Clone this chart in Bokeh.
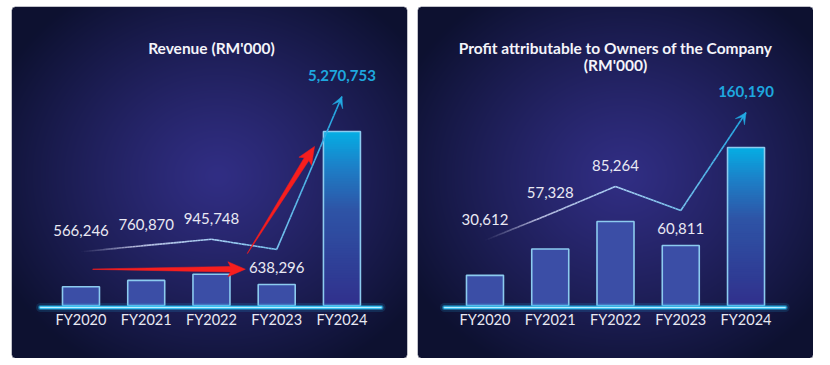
import numpy as np
from bokeh.plotting import figure
from bokeh.layouts import row
from bokeh.models import Range1d, Arrow, VeeHead
from bokeh.embed import file_html
from bokeh.resources import INLINE
from bokeh.core.properties import value

# ---------------- data ----------------
categories = ["FY2020", "FY2021", "FY2022", "FY2023", "FY2024"]
revenue = [566246, 760870, 945748, 638296, 5270753]
profit = [30612, 57328, 85264, 60811, 160190]
revenue_title = ["Revenue (RM'000)"]
profit_title = ["Profit attributable to Owners of the Company", "(RM'000)"]

# ---------------- style / layout ----------------
FRAME_W, FRAME_H = 396, 352
FONT = value("Lato")
LABEL_LIFT_PX = [56, 56, 56, 17, 56]   # value label distance above bar top (px)
TREND_LIFT_PX = 35                     # trend line distance above bar top (px)
BAR_FILL = "#3b4ea6"
BAR_LINE = "#8ccbef"
CYAN = "#1ea7df"
LABEL_COLOR = "#e9e9f3"

# red highlight arrows on revenue panel (index units, data units)
red_arrows = [((0.18, 1.10e6), (2.52, 1.10e6)),
              ((2.55, 1.575e6), (3.58, 4.82e6))]


def bg_image(W, H, radius=5):
    yy, xx = np.mgrid[0:H, 0:W].astype(float)
    ytop = (H - 1) - yy
    cx, cy = W * 0.52, H * 0.48
    d = np.sqrt(((xx - cx) / (W * 0.62)) ** 2 + ((ytop - cy) / (H * 0.62)) ** 2)
    t = np.clip(d, 0, 1) ** 1.15
    c0 = np.array([49, 46, 132], float)
    c1 = np.array([13, 17, 48], float)
    rgb = c0[None, None, :] * (1 - t)[..., None] + c1[None, None, :] * t[..., None]
    xc = xx + 0.5
    yc = ytop + 0.5
    dx = np.maximum(np.maximum(radius - xc, xc - (W - radius)), 0)
    dy = np.maximum(np.maximum(radius - yc, yc - (H - radius)), 0)
    inside = (dx ** 2 + dy ** 2) <= radius ** 2
    img = np.empty((H, W), dtype=np.uint32)
    view = img.view(dtype=np.uint8).reshape((H, W, 4))
    view[..., 0] = rgb[..., 0].astype(np.uint8)
    view[..., 1] = rgb[..., 1].astype(np.uint8)
    view[..., 2] = rgb[..., 2].astype(np.uint8)
    view[..., 3] = np.where(inside, 255, 0).astype(np.uint8)
    return img


def lerp_stops(t, stops):
    for (t0, c0), (t1, c1) in zip(stops[:-1], stops[1:]):
        if t <= t1:
            f = 0 if t1 == t0 else (t - t0) / (t1 - t0)
            f = min(max(f, 0), 1)
            return tuple(a + (b - a) * f for a, b in zip(c0, c1))
    return stops[-1][1]


def hexc(c):
    return "#%02x%02x%02x" % tuple(int(round(v)) for v in c[:3])


def make_panel(vals, title_lines, xr, yr, bl, br, with_red=False):
    x0, x1 = xr
    y0, y1 = yr
    upp = (y1 - y0) / FRAME_H
    ppx = FRAME_W / (x1 - x0)
    ppy = FRAME_H / (y1 - y0)
    p = figure(width=FRAME_W + bl + br, height=FRAME_H + 6,
               x_range=Range1d(x0, x1), y_range=Range1d(y0, y1),
               x_axis_type=None, y_axis_type=None, title=None,
               output_backend="svg", toolbar_location=None,
               min_border=0, min_border_left=bl, min_border_right=br,
               min_border_top=6, min_border_bottom=0,
               background_fill_color="white", border_fill_color="white",
               outline_line_color=None)
    p.grid.visible = False

    p.image_rgba(image=[bg_image(FRAME_W, FRAME_H)], x=x0, y=y0, dw=x1 - x0, dh=y1 - y0)

    idx = list(range(len(categories)))
    bw = 0.567
    # normal bars
    p.vbar(x=idx[:-1], top=vals[:-1], bottom=0, width=bw,
           fill_color=BAR_FILL, line_color=BAR_LINE, line_width=1.6)
    # gradient last bar (overlapping slices drawn tallest first -> no seams)
    n = 70
    top = vals[-1]
    edges = np.linspace(0, top, n + 1)
    stops = [(0.0, (48, 48, 140)), (0.55, (46, 84, 166)), (0.8, (28, 128, 200)), (1.0, (5, 174, 228))]
    cols = [hexc(lerp_stops((i + 0.5) / n, stops)) for i in range(n)]
    order = list(range(n))[::-1]
    p.quad(left=idx[-1] - bw / 2, right=idx[-1] + bw / 2, bottom=0,
           top=[edges[i + 1] for i in order], fill_color=[cols[i] for i in order], line_color=None)
    p.vbar(x=[idx[-1]], top=[top], bottom=0, width=bw, fill_color=None,
           line_color=BAR_LINE, line_width=1.6)

    # glowing baseline
    by = -2 * upp
    for w, a, c in [(9, 0.15, "#2bb8f0"), (5, 0.45, "#22b2ec"), (2.8, 0.95, "#3cc4f4"), (1.0, 1.0, "#bdeeff")]:
        p.line(x=[-0.62, 4.6], y=[by, by], line_width=w, line_alpha=a, line_color=c, line_cap="round")

    # trend line
    ty = [v + TREND_LIFT_PX * upp for v in vals]
    tstops = [(0.0, (170, 170, 205, 0.0)), (0.8, (205, 210, 240, 0.85)), (2.0, (170, 210, 245, 1.0)),
              (3.0, (120, 195, 238, 1.0)), (4.0, (30, 165, 225, 1.0))]
    xs, ys, cs, als = [], [], [], []
    seg = 24
    for i in range(len(idx) - 1):
        xa, xb = idx[i], idx[i + 1]
        ya, yb = ty[i], ty[i + 1]
        for k in range(seg):
            f0, f1 = k / seg, (k + 1) / seg
            xs.append([xa + (xb - xa) * f0, xa + (xb - xa) * f1])
            ys.append([ya + (yb - ya) * f0, ya + (yb - ya) * f1])
            c = lerp_stops(xa + (xb - xa) * (f0 + f1) / 2, tstops)
            cs.append(hexc(c))
            als.append(c[3])
    p.multi_line(xs=xs, ys=ys, line_color=cs, line_alpha=als, line_width=1.6)
    p.add_layout(Arrow(x_start=idx[-2], y_start=ty[-2], x_end=idx[-1], y_end=ty[-1],
                       line_alpha=0.0,
                       end=VeeHead(size=11, fill_color="#22a9e2", line_color="#22a9e2", line_width=0.5)))

    # red arrows
    if with_red:
        for (ax, ay), (bx, by2) in red_arrows:
            P0 = np.array([ax * ppx, ay * ppy])
            P1 = np.array([bx * ppx, by2 * ppy])
            d = P1 - P0
            L = np.hypot(*d)
            u = d / L
            nrm = np.array([-u[1], u[0]])
            head_len, head_half, w_tail, w_neck = 15, 7.5, 0.4, 5.5
            neck = P1 - u * head_len
            barb = neck - u * 2.5
            pts = [P0 + nrm * w_tail / 2, neck + nrm * w_neck / 2, barb + nrm * head_half, P1,
                   barb - nrm * head_half, neck - nrm * w_neck / 2, P0 - nrm * w_tail / 2]
            px = [q[0] / ppx for q in pts]
            py = [q[1] / ppy for q in pts]
            p.patch(x=px, y=py, fill_color="#f71e1e", line_color="#f71e1e", line_width=0.5)

    # value labels
    labels = [f"{v:,}" for v in vals]
    ly = [v + LABEL_LIFT_PX[i] * upp for i, v in enumerate(vals)]
    p.text(x=idx[:-1], y=ly[:-1], text=labels[:-1], text_font=FONT, text_font_size="15px",
           text_color=LABEL_COLOR, text_align="center", text_baseline="middle")
    p.text(x=[idx[-1]], y=[ly[-1]], text=[labels[-1]], text_font=FONT, text_font_size="15px",
           text_font_style="bold", text_color=CYAN, text_align="center", text_baseline="middle")

    # category labels
    p.text(x=idx, y=[-14 * upp] * len(idx), text=categories, text_font=FONT, text_font_size="14.5px",
           text_color=LABEL_COLOR, text_align="center", text_baseline="middle")

    # title
    for j, t in enumerate(title_lines):
        p.text(x=[2], y=[y1 - (41 + 17 * j) * upp], text=[t], text_font=FONT, text_font_size="15.5px",
               text_font_style="bold", text_color="#f4f4fa", text_align="center", text_baseline="middle")
    return p


p1 = make_panel(revenue, revenue_title, (-1.065, 5.005), (-1.605e6, 9.057e6), 11, 5, with_red=True)
p2 = make_panel(profit, profit_title, (-1.034, 5.034), (-53.7e3, 303.2e3), 5, 0)

layout = row(p1, p2)
open("out.html", "w").write(file_html(layout, INLINE))
